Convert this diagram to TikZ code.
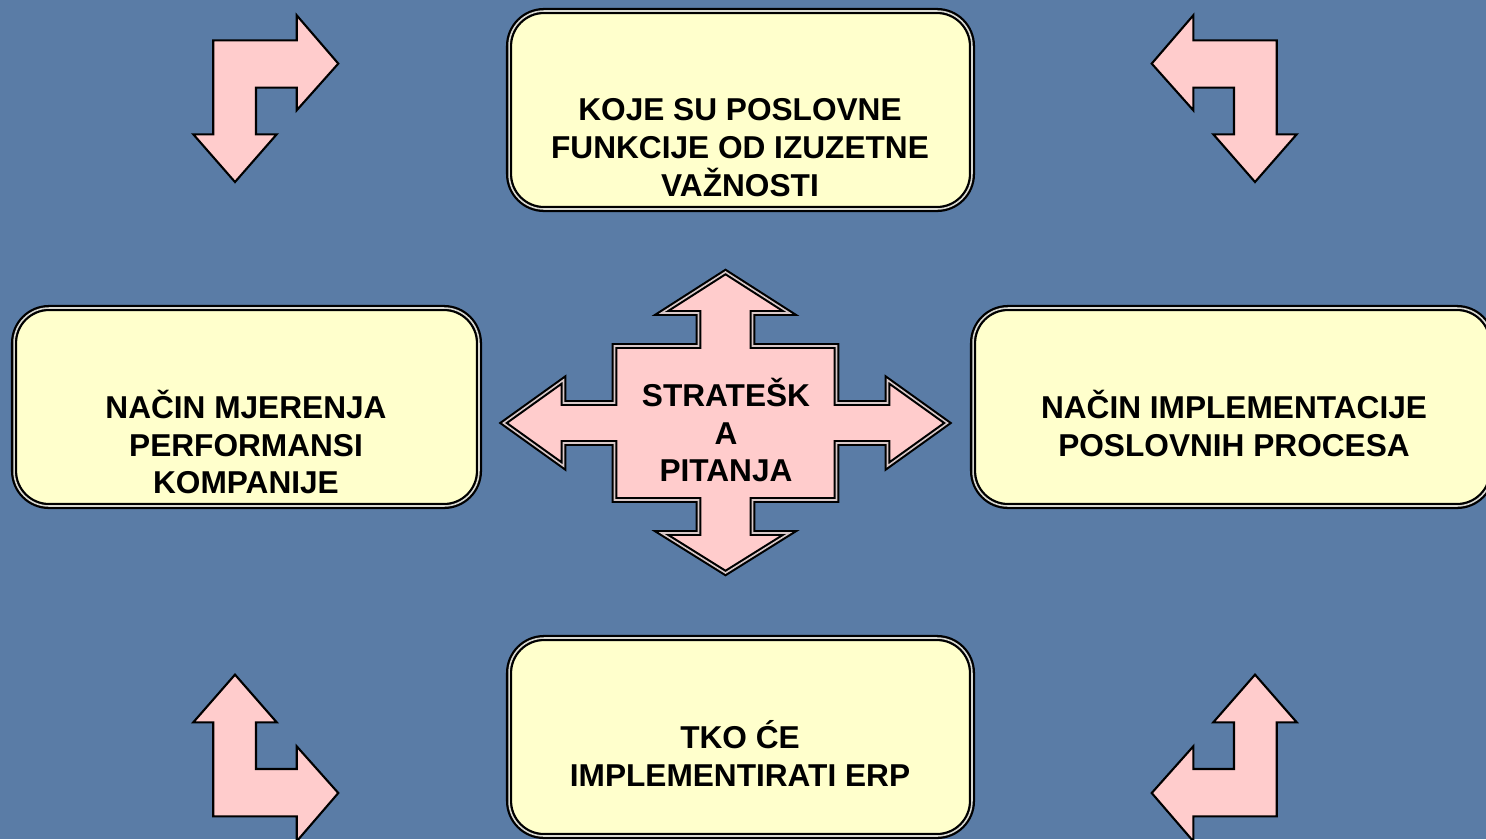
\documentclass[tikz,border=0pt]{standalone}
\usepackage{fontspec}
\setmainfont{Liberation Sans}
\usepackage{tikz}
\usetikzlibrary{positioning,shapes,calc}

\definecolor{bgblue}{HTML}{5A7CA6}
\definecolor{boxyellow}{HTML}{FFFFCC}
\definecolor{arrowpink}{HTML}{FFCCCC}

% one bent arrow, drawn round the centre of the slide
\newcommand{\bentarrow}{%
	\draw[bent] (-531.7,-388) -- (-448.3,-388) -- (-448.3,-413) -- (-406.7,-364.7) --
		(-448.3,-318) -- (-448.3,-340.7) -- (-489,-340.7) -- (-489,-294) --
		(-468.3,-294) -- (-510,-246.3) -- (-551.7,-294) -- (-531.7,-294) -- cycle;}

\begin{document}
\begin{tikzpicture}[x=0.02cm,y=-0.02cm,
	question/.style={draw=black,double=white!80!boxyellow!70!gray,line width=1.3pt,double distance=0.9pt,
		fill=boxyellow,rounded corners=0.7cm,minimum height=3.96cm},
	qtext/.style={align=center,font=\bfseries\fontsize{18}{21.6}\selectfont},
	bent/.style={draw=black,fill=arrowpink,line width=1.2pt,line join=miter}]

	% The slide
	\useasboundingbox (0,0) rectangle (1486,839);
	\clip (0,0) rectangle (1486,839);
	\fill[bgblue] (0,0) rectangle (1486,839);

	% The four questions
	\node[question,minimum width=9.26cm] (top) at (740.5,110) {};
	\node[qtext] (toptext) at (740,148) {KOJE SU POSLOVNE\\FUNKCIJE OD IZUZETNE\\VAŽNOSTI};

	\node[question,minimum width=9.3cm] (left) at (246.5,407) {};
	\node[qtext] (lefttext) at (246,442) {NAČIN MJERENJA\\PERFORMANSI\\KOMPANIJE};

	\node[question,minimum width=10.38cm] (right) at (1232.5,407) {};
	\node[qtext] (righttext) at (1234,423) {NAČIN IMPLEMENTACIJE\\POSLOVNIH PROCESA};

	\node[question,minimum width=9.26cm] (bottom) at (740.5,737) {};
	\node[qtext] (bottomtext) at (740,753) {TKO ĆE\\IMPLEMENTIRATI ERP};

	% The cross in the middle
	\begin{scope}[shift={(725.5,423)}]
		\draw[draw=black,double=arrowpink!50!gray!60!white,line width=1.2pt,double distance=0.9pt,
			fill=arrowpink,line join=miter]
			(0,-151) -- (64,-110) -- (27,-110) -- (27,-77) -- (111,-77) -- (111,-20) --
			(162,-20) -- (162,-43) -- (222,0) -- (162,43) -- (162,20) -- (111,20) --
			(111,77) -- (27,77) -- (27,110) -- (64,110) -- (0,150) -- (-64,110) --
			(-27,110) -- (-27,77) -- (-111,77) -- (-111,20) -- (-162,20) -- (-162,43) --
			(-222,0) -- (-162,-43) -- (-162,-20) -- (-111,-20) -- (-111,-77) --
			(-27,-77) -- (-27,-110) -- (-64,-110) -- cycle;
	\end{scope}
	\node[qtext] (centretext) at (726,430) {STRATEŠK\\A\\PITANJA};

	% The bent arrows in the corners
	\begin{scope}[shift={(745,428.3)}]
		\bentarrow
	\end{scope}
	\begin{scope}[shift={(745,428.3)},xscale=-1]
		\bentarrow
	\end{scope}
	\begin{scope}[shift={(745,428.3)},yscale=-1]
		\bentarrow
	\end{scope}
	\begin{scope}[shift={(745,428.3)},xscale=-1,yscale=-1]
		\bentarrow
	\end{scope}
\end{tikzpicture}
\end{document}
